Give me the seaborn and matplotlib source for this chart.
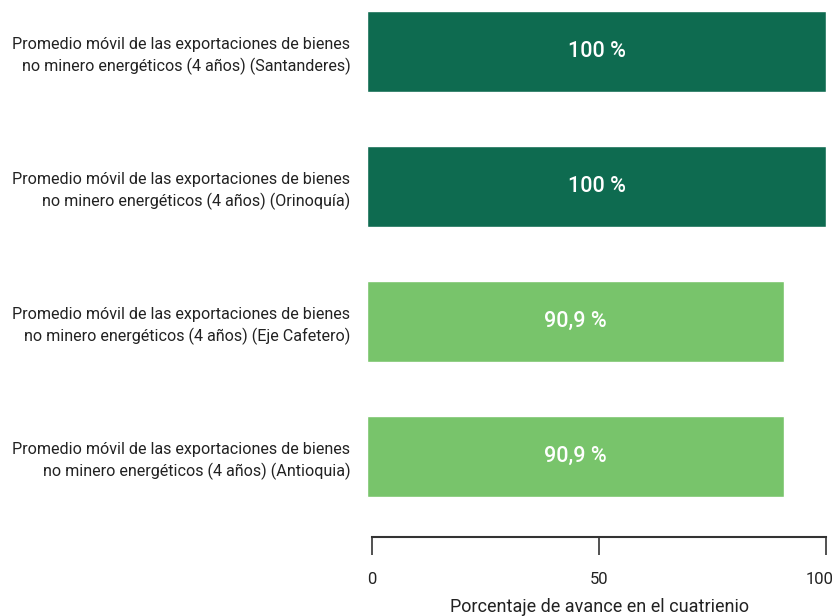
import pandas as pd
import matplotlib
matplotlib.use("Agg")
import matplotlib.pyplot as plt
import matplotlib.transforms as mtransforms
import seaborn as sns

categorias = [
    "Promedio móvil de las exportaciones de bienes\nno minero energéticos (4 años) (Santanderes)",
    "Promedio móvil de las exportaciones de bienes\nno minero energéticos (4 años) (Orinoquía)",
    "Promedio móvil de las exportaciones de bienes\nno minero energéticos (4 años) (Eje Cafetero)",
    "Promedio móvil de las exportaciones de bienes\nno minero energéticos (4 años) (Antioquia)",
]
avance = [100, 100, 90.9, 90.9]
etiquetas = ["100 %", "100 %", "90,9 %", "90,9 %"]
colores = ["#0e6b50", "#0e6b50", "#78c46b", "#78c46b"]
ticks_x = [0, 50, 100]

df = pd.DataFrame({"indicador": categorias, "avance": avance})

sns.set_style("white")
plt.rcParams["font.family"] = ["Roboto", "DejaVu Sans"]

fig = plt.figure(figsize=(8.38, 6.16), dpi=100)
ax = fig.add_axes([0.438, 0.128, 0.5477, 0.872])

sns.barplot(data=df, y="indicador", x="avance", hue="indicador",
            palette=colores, saturation=1, orient="h", width=0.6,
            legend=False, ax=ax)

for i, (v, txt) in enumerate(zip(avance, etiquetas)):
    ax.text(v / 2, i, txt, ha="center", va="center", color="white",
            fontsize=15.5, fontweight="medium")

ax.set_xlim(0, 100)
ax.set_ylim(3.6, -0.378)
ax.set_xticks([])
ax.tick_params(axis="y", length=0, pad=12, labelsize=11.6, labelcolor="#222222")
for lbl in ax.get_yticklabels():
    lbl.set_ha("right")
    lbl.set_multialignment("right")
    lbl.set_linespacing(1.45)
ax.set_ylabel("")
ax.set_xlabel("")
for s in ["top", "right", "left", "bottom"]:
    ax.spines[s].set_visible(False)

# escala inferior (eje separado, como en el original)
axx = fig.add_axes([372 / 838, 0.128, (826 - 372) / 838, 0.001])
axx.set_xlim(0, 100)
axx.set_yticks([])
axx.set_xticks(ticks_x)
axx.set_xticklabels([str(t) for t in ticks_x], fontsize=12, color="#222222")
axx.tick_params(axis="x", direction="out", length=13, width=1.2,
                color="#333333", pad=12, bottom=True)
# correr un poco la etiqueta "100" hacia la izquierda para que no se corte
ultimo = axx.get_xticklabels()[-1]
ultimo.set_transform(ultimo.get_transform() +
                     mtransforms.ScaledTranslation(-6 / 100, 0, fig.dpi_scale_trans))
for s in ["top", "right", "left"]:
    axx.spines[s].set_visible(False)
axx.spines["bottom"].set_color("#333333")
axx.spines["bottom"].set_linewidth(1.5)
axx.set_facecolor("none")
axx.set_xlabel("Porcentaje de avance en el cuatrienio", fontsize=13,
               color="#222222", labelpad=8)

fig.savefig("out.png", dpi=100)
